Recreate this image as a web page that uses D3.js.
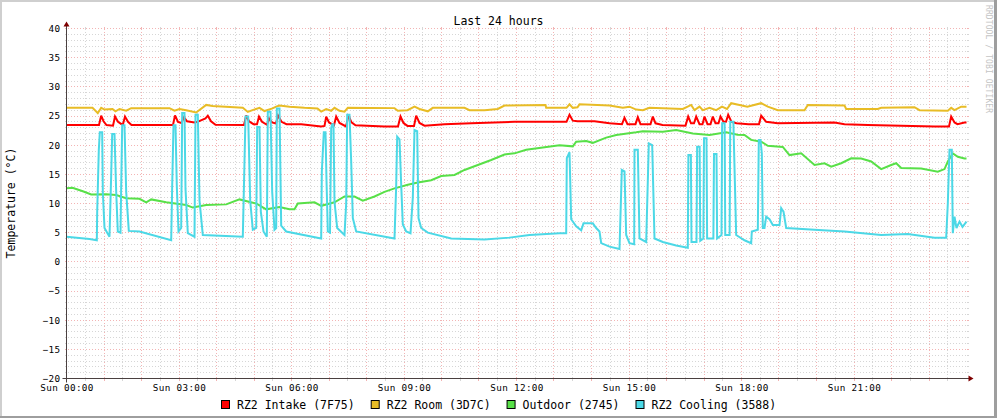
<!DOCTYPE html>
<html><head><meta charset="utf-8">
<script src="https://cdn.jsdelivr.net/npm/d3@7/dist/d3.min.js"></script>
<style>body{margin:0;background:#fff}svg{display:block}</style>
</head><body>
<svg id="c" width="997" height="418"></svg>
<script>
// ---------- data (time in minutes since Sun 00:00, values in °C) ----------
const title = "Last 24 hours";
const yLabel = "Temperature (°C)";
const watermark = "RRDTOOL / TOBI OETIKER";
const xTickMinutes = [0, 180, 360, 540, 720, 900, 1080, 1260];
const xTickLabels = ["Sun 00:00", "Sun 03:00", "Sun 06:00", "Sun 09:00", "Sun 12:00", "Sun 15:00", "Sun 18:00", "Sun 21:00"];
const yTicks = [40, 35, 30, 25, 20, 15, 10, 5, 0, -5, -10, -15, -20];
const seriesNames = ["RZ2 Intake (7F75)", "RZ2 Room (3D7C)", "Outdoor (2745)", "RZ2 Cooling (3588)"];
const seriesColors = ["#ff0000", "#e8bc26", "#58e048", "#4cd8e6"];

const intake = [[0,23.45],[52,23.45],[55.5,25.05],[59.2,24.1],[64,23.45],[74.4,23.35],[77.6,24.9],[82.4,24.0],[88,23.6],[90.4,23.6],[93.6,24.9],[98.4,24.0],[104,23.45],[170.4,23.45],[173.6,25.1],[178.4,24.0],[184,23.8],[188,24.8],[192.8,24.1],[204.8,23.9],[209.6,24.0],[222.4,24.6],[226.1,25.05],[231.2,24.1],[238.4,23.5],[284,23.45],[287.5,25.1],[292,24.1],[299.2,23.6],[304.8,23.6],[308,24.9],[312.8,24.0],[320.8,23.5],[324,24.6],[328.8,23.9],[335.2,23.7],[338.4,25.1],[344,24.0],[352,23.6],[375.5,23.6],[407.5,23.2],[412.8,23.3],[415.5,24.9],[420,23.9],[428,23.4],[431.5,24.9],[436.8,23.8],[447.2,23.2],[451.2,25.05],[456,23.9],[462.4,23.4],[508.8,23.2],[530.4,23.2],[534.4,24.9],[539.2,23.8],[545.6,23.3],[556,23.3],[559.5,25.05],[564.8,23.8],[572.8,23.35],[604.8,23.6],[647.5,23.75],[716.8,24.0],[800,24.0],[804.8,25.2],[810.1,24.2],[817.6,24.1],[844.8,24.1],[868.8,23.75],[888.8,23.6],[892.8,24.7],[897.6,23.6],[910.4,23.6],[914.1,24.8],[918.4,23.6],[934.4,23.6],[938.1,24.9],[942.4,23.75],[953.6,23.45],[990.4,23.35],[994.7,24.9],[999.2,23.75],[1004,23.75],[1007.5,24.9],[1012.8,23.6],[1017.6,23.6],[1020.8,24.9],[1025.6,23.6],[1030.4,23.6],[1034.1,24.9],[1038.4,23.75],[1043.2,23.75],[1046.4,24.9],[1051.2,24.0],[1055.2,24.0],[1058.7,25.2],[1064,24.0],[1072,23.75],[1091.2,23.6],[1108,23.6],[1111.5,25.05],[1119.5,24.0],[1138.1,23.75],[1228.8,23.9],[1244.8,23.6],[1282.1,23.45],[1388.8,23.2],[1412,23.2],[1415.5,24.9],[1420.8,23.9],[1425.6,23.6],[1436.8,23.9],[1440,23.9]];

const room = [[0,26.4],[41.6,26.4],[46.4,25.9],[50.1,25.5],[55.5,26.4],[60.8,26.1],[73.6,26.2],[78.4,25.8],[84.8,26.2],[95.5,25.9],[103.5,26.35],[164.8,26.35],[172.8,25.9],[180.8,26.2],[191.5,26.0],[207.5,25.6],[223.5,26.9],[233.6,26.7],[282.1,26.4],[290.1,25.7],[297.6,26.0],[308.8,26.4],[316.8,25.85],[329.6,26.3],[335.5,26.6],[340.8,26.8],[356.8,26.6],[380.8,26.4],[401.6,26.3],[407.5,25.75],[415.5,26.2],[423.5,25.9],[428.8,26.4],[436.8,25.9],[444.8,25.75],[450.1,26.4],[524.8,26.35],[530.1,25.9],[545.6,26.0],[556.8,26.6],[564.8,26.2],[578.1,25.8],[586.1,26.4],[636.8,26.4],[644.8,26.0],[668.8,26.0],[690.1,26.2],[700.8,26.8],[766.4,26.9],[767.5,26.4],[800,26.4],[804.8,27.0],[810.1,26.4],[817.6,26.5],[820.8,27.0],[868.8,26.8],[890.1,26.4],[900.8,26.6],[911.5,26.1],[922.1,26.0],[932.8,26.4],[986.1,26.2],[999.5,26.9],[1004.8,26.0],[1012.8,26.6],[1018.1,26.0],[1028.8,26.4],[1039.5,26.0],[1048.8,26.6],[1056.8,26.2],[1063.5,27.2],[1076.8,26.9],[1089.3,26.6],[1111.5,27.2],[1122.1,26.6],[1138.1,26.0],[1180.8,26.0],[1186.1,26.9],[1244.8,26.8],[1247.5,26.2],[1298.1,26.2],[1303.5,26.4],[1356.8,26.5],[1364.8,26.0],[1410.1,25.9],[1415.5,26.4],[1420.8,26.0],[1431.5,26.6],[1440,26.6]];

const outdoor = [[0,12.6],[9.6,12.7],[26.1,12.1],[39.5,11.55],[63.5,11.6],[79.5,11.45],[95.5,10.9],[116.8,10.8],[127.5,10.2],[135.5,10.7],[159.5,10.2],[191.5,9.75],[202.1,9.3],[223.5,9.75],[255.5,9.85],[276.8,10.7],[303.5,10.0],[319.5,9.0],[340.8,9.4],[356.8,9.0],[364.8,9.0],[370.1,10.0],[396.8,10.2],[407.5,9.6],[428.8,10.2],[444.8,11.2],[460.8,11.2],[474.1,10.5],[492.8,11.2],[508.8,12.0],[524.8,12.6],[546.1,13.2],[562.1,13.6],[583.5,14.0],[599.5,14.7],[620.8,14.9],[636.8,15.75],[658.1,16.6],[679.5,17.45],[700.8,18.4],[716.8,18.6],[735.5,19.2],[762.1,19.6],[788.8,20.0],[810.1,19.8],[815.5,20.6],[831.5,20.7],[842.1,20.4],[863.5,21.3],[879.5,21.75],[911.5,22.2],[922.1,22.4],[954.1,22.3],[975.5,22.6],[1002.1,22.0],[1028.8,21.75],[1055.5,22.2],[1073.6,21.8],[1084.8,21.75],[1095.5,20.9],[1111.5,20.6],[1122.1,19.9],[1146.1,19.7],[1156.8,18.3],[1175.5,18.6],[1196.8,16.6],[1212.8,16.9],[1223.5,16.3],[1239.5,16.9],[1255.5,17.75],[1271.5,17.7],[1287.5,17.2],[1303.5,15.9],[1319.5,16.6],[1327.5,16.9],[1335.5,16.1],[1367.5,16.0],[1394.1,15.45],[1404.8,15.9],[1410.1,17.2],[1418.1,18.6],[1426.1,18.0],[1436.8,17.7],[1440,17.7]];

const cooling = [[0,4.3],[36.8,3.9],[48.5,3.7],[49.1,8.6],[51.7,19.2],[53.3,22.2],[57.1,22.2],[58.1,12.0],[60.8,5.8],[68.8,4.3],[71.5,14.9],[73.1,21.9],[76.8,21.9],[79.5,12.0],[82.1,5.2],[86.4,5.0],[87.5,13],[89.1,23.4],[92.8,23.4],[95.5,12],[99.7,5.3],[116.8,5.2],[167.5,3.7],[169.1,13],[171.2,23.4],[174.4,23.4],[176.5,13],[179.2,5.2],[183.5,5.8],[185.1,25.5],[188.8,25.5],[190.4,12.5],[194.1,4.9],[204.8,4.3],[206.4,25.2],[210.1,25.2],[212.8,10.5],[218.1,4.6],[282.1,4.3],[286.4,24.9],[290.7,24.9],[293.9,10.5],[298.1,5.5],[303.5,5.8],[305.1,23.1],[308.8,23.1],[310.9,8.6],[315.2,5.2],[320.5,4.3],[322.1,25.75],[326.4,25.75],[329.1,12],[332.8,5.5],[335.5,5.8],[336.5,26.3],[340.8,26.3],[343.5,6.2],[351.5,5.2],[407.5,4.0],[408.5,15.45],[411.7,22.2],[414.4,22.2],[416,14],[418.1,5.2],[421.6,5.0],[423.5,22.9],[425.1,23.6],[427.2,23.6],[428.8,10.3],[433.1,5.8],[444.8,4.6],[447.5,10],[449.1,25.2],[452.8,25.2],[455.5,17.2],[458.1,7.5],[463.5,5.2],[524.8,4.0],[527.5,13],[529.1,21.45],[532.8,21.0],[535.5,13.2],[538.1,6.4],[543.5,5.2],[550.4,4.9],[554.1,11],[556.8,22.6],[561.1,22.4],[563.2,7.5],[567.5,5.8],[578.1,5.0],[615.5,4.0],[668.8,3.85],[708.8,4.15],[740.8,4.6],[788.8,4.9],[799.5,4.9],[800.5,17.75],[804.8,18.8],[807.5,7.3],[815.5,6.1],[823.5,5.4],[827.2,6.6],[842.1,6.6],[847.5,5.8],[852.8,5.2],[855.5,3.2],[868.8,2.6],[884.8,2.2],[888.5,15.75],[892.8,15.5],[895.5,4.6],[900.8,3.2],[908.3,3.0],[908.8,19.2],[914.1,19.2],[916.8,4.0],[927.5,3.4],[931.7,20.3],[937.1,20.0],[940.8,4.0],[954.1,3.4],[975.5,2.8],[994.1,2.4],[995,18.3],[999,18.3],[1000,3.4],[1008,3.4],[1009,19.75],[1013,19.75],[1014,3.6],[1019,4.0],[1020,21.2],[1024,21.2],[1025,4.0],[1035,4.0],[1036,18.5],[1040,18.5],[1041,4.0],[1048,4.6],[1049,23.75],[1053,23.75],[1054,4.6],[1061,4.6],[1062,24.0],[1067,24.0],[1071.5,4.6],[1084.8,3.7],[1095.5,3.2],[1096.5,5.2],[1106.1,5.5],[1107.7,20.9],[1110.4,20.9],[1112.5,18.6],[1114.1,5.8],[1116.8,5.8],[1119.5,7.75],[1124.8,7.3],[1130.1,6.3],[1140.8,6.3],[1143.5,9.2],[1147.2,8.6],[1151.5,5.8],[1196.8,5.5],[1244.8,5.2],[1303.5,4.6],[1346.1,4.75],[1388.8,4.15],[1407.5,4.15],[1410.1,10.0],[1412.8,19.2],[1416.5,19.2],[1418.1,4.9],[1420.8,7.75],[1424,5.8],[1428.8,6.9],[1433.6,6.0],[1440,6.9]];

const allSeries = [intake, room, outdoor, cooling];

// ---------- drawing ----------
const W = 997, H = 418;
const svg = d3.select("#c");
const mono = "'DejaVu Sans Mono', monospace";
const x = d3.scaleLinear().domain([0, 1440]).range([66.5, 966.5]);
const y = d3.scaleLinear().domain([-20, 40]).range([378.5, 28.5]);
const X0 = x(0), X1 = x(1440), Y0 = y(-20), Y1 = y(40);
const px = v => Math.floor(v) + 0.5;

svg.append("rect").attr("width", W).attr("height", H).attr("fill", "#ffffff");
// 3D frame shades
svg.append("path").attr("fill", "#cfcfcf")
  .attr("d", `M0,0H${W}V2H2V${H}H0Z`);
svg.append("path").attr("fill", "#9e9e9e")
  .attr("d", `M${W},0V${H}H0V${H-2}H${W-3}V0Z`);

const grid = svg.append("g").attr("shape-rendering", "crispEdges");
const minorCol = "#d6d6d6", majorCol = "#f3b4b4";
// horizontal grid lines
d3.range(-20, 41, 1).forEach(v => {
  const major = v % 5 === 0;
  const yy = px(y(v));
  const col = major ? majorCol : minorCol;
  grid.append("line").attr("x1", X0 + 1).attr("x2", X1 + 2).attr("y1", yy).attr("y2", yy)
    .attr("stroke", col).attr("stroke-dasharray", "1,2");
  grid.append("line").attr("x1", X0 - 2).attr("x2", X0).attr("y1", yy).attr("y2", yy).attr("stroke", col);
  grid.append("line").attr("x1", X1).attr("x2", X1 + 2).attr("y1", yy).attr("y2", yy).attr("stroke", col);
});
// vertical grid lines
d3.range(0, 1440, 30).forEach(m => {
  const major = m % 60 === 0;
  const xx = px(x(m));
  const col = major ? majorCol : minorCol;
  grid.append("line").attr("x1", xx).attr("x2", xx).attr("y1", Y1).attr("y2", Y0)
    .attr("stroke", col).attr("stroke-dasharray", "1,2");
  grid.append("line").attr("x1", xx).attr("x2", xx).attr("y1", Y0).attr("y2", Y0 + 2).attr("stroke", col);
  grid.append("line").attr("x1", xx).attr("x2", xx).attr("y1", Y1 - 2).attr("y2", Y1).attr("stroke", col);
});

// axis labels
const yAxis = d3.axisLeft(y).tickValues(yTicks).tickSize(0).tickPadding(6).tickFormat(d3.format("d"));
const gy = svg.append("g").attr("transform", `translate(${X0},0)`).call(yAxis);
gy.select(".domain").remove();
gy.selectAll("text").attr("font-family", mono).attr("font-size", "9.3px")
  .attr("letter-spacing", "0.35px").attr("fill", "#000");

const xAxis = d3.axisBottom(x).tickValues(xTickMinutes).tickSize(0).tickPadding(6)
  .tickFormat((d, i) => xTickLabels[i]);
const gx = svg.append("g").attr("transform", `translate(0,${Y0})`).call(xAxis);
gx.select(".domain").remove();
gx.selectAll("text").attr("font-family", mono).attr("font-size", "9.3px")
  .attr("letter-spacing", "0.35px").attr("fill", "#000");

// data lines
const line = d3.line().x(d => x(d[0])).y(d => y(d[1]));
const lines = svg.append("g");
allSeries.forEach((s, i) => {
  lines.append("path").datum(s).attr("d", line).attr("fill", "none")
    .attr("stroke", seriesColors[i]).attr("stroke-width", 2)
    .attr("stroke-linejoin", "miter").attr("stroke-miterlimit", 3);
});

// axes + arrows
const axisCol = "#4a4040", arrowCol = "#7f0000";
svg.append("line").attr("x1", X0 - 4).attr("x2", X1 + 4).attr("y1", Y0).attr("y2", Y0).attr("stroke", axisCol);
svg.append("line").attr("x1", X0).attr("x2", X0).attr("y1", Y0 + 4).attr("y2", Y1 - 4).attr("stroke", axisCol);
svg.append("path").attr("fill", arrowCol)
  .attr("d", `M${X1 + 2},${Y0 - 3}L${X1 + 2},${Y0 + 3}L${X1 + 7},${Y0}Z`);
svg.append("path").attr("fill", arrowCol)
  .attr("d", `M${X0 - 3},${Y1 - 2}L${X0 + 3},${Y1 - 2}L${X0},${Y1 - 7}Z`);

// title
svg.append("text").attr("x", 498.5).attr("y", 24.5).attr("text-anchor", "middle")
  .attr("font-family", mono).attr("font-size", "11.5px").attr("fill", "#000").text(title);
// y label
svg.append("text").attr("transform", "translate(15,203) rotate(-90)").attr("text-anchor", "middle")
  .attr("font-family", mono).attr("font-size", "11.5px").attr("fill", "#000").text(yLabel);
// watermark
svg.append("text").attr("transform", "translate(985.5,5) rotate(90)").attr("text-anchor", "start")
  .attr("font-family", mono).attr("font-size", "8px").attr("letter-spacing", "0.1px")
  .attr("fill", "#c4c4c4").text(watermark);

// legend
const lg = svg.append("g");
const items = seriesNames.map((name, i) => {
  const g = lg.append("g");
  g.append("rect").attr("x", 0.5).attr("y", 400.5).attr("width", 8).attr("height", 8)
    .attr("fill", seriesColors[i]).attr("stroke", "#000").attr("stroke-width", 1);
  const t = g.append("text").attr("x", 16).attr("y", 408.5).attr("font-family", mono)
    .attr("font-size", "11.5px").attr("fill", "#000").text(name);
  return { g, w: 16 + t.node().getComputedTextLength() };
});
const gap = 16;
const total = d3.sum(items, d => d.w) + gap * (items.length - 1);
let cx = Math.round(498.5 - total / 2);
items.forEach(it => { it.g.attr("transform", `translate(${cx},0)`); cx += it.w + gap; });
</script>
</body></html>
